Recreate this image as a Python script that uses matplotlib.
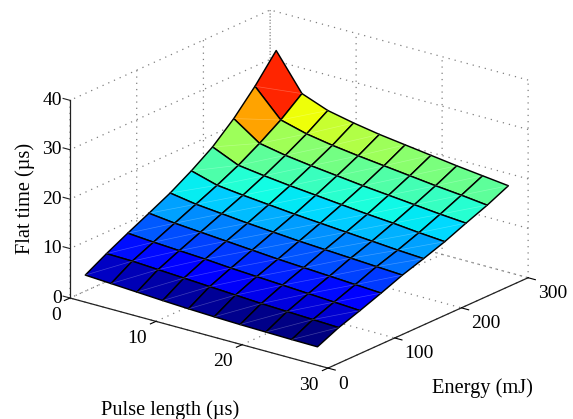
import numpy as np
import matplotlib
matplotlib.use("Agg")
import matplotlib.pyplot as plt
from mpl_toolkits.mplot3d import proj3d
from mpl_toolkits.mplot3d.art3d import Line3DCollection

plt.rcParams['font.family'] = ['Liberation Serif', 'DejaVu Serif']

pulse_length = [1, 4, 7, 10, 13, 16, 19, 22, 25, 28]
energy = [10, 41.8, 73.6, 105.4, 137.2, 169, 200.8, 232.6, 264.4, 296.2]
e0 = [4.5, 4.2, 3.9, 3.6, 3.35, 3.15, 3.0, 2.9, 2.8, 2.75]
e1 = [6.9, 6.8, 6.5, 6.2, 5.9, 5.6, 5.3, 5.1, 4.9, 4.7]
e2 = [9.1, 8.7, 8.4, 8.1, 7.7, 7.4, 7.1, 6.8, 6.5, 6.2]
e3 = [11.2, 10.6, 10.2, 9.8, 9.4, 9.0, 8.7, 8.4, 8.1, 7.8]
e4 = [13.35, 12.5, 12.0, 11.5, 11.1, 10.7, 10.4, 10.1, 9.8, 9.5]
e5 = [15.9, 14.4, 13.8, 13.3, 12.8, 12.4, 12.0, 11.6, 11.2, 10.9]
e6 = [18.8, 16.5, 15.8, 15.2, 14.7, 14.2, 13.7, 13.3, 12.8, 12.4]
e7 = [22.6, 19.0, 18.0, 17.3, 16.7, 16.1, 15.6, 15.1, 14.6, 14.2]
e8 = [27.2, 21.8, 20.4, 19.5, 18.8, 18.2, 17.6, 17.0, 16.5, 15.9]
e9 = [32.5, 25.2, 23.2, 22.1, 21.2, 20.5, 19.8, 19.1, 18.5, 17.9]
flat_time = [e0, e1, e2, e3, e4, e5, e6, e7, e8, e9]
x_ticks = [0, 10, 20, 30]
y_ticks = [0, 100, 200, 300]
z_ticks = [0, 10, 20, 30, 40]

W, H = 573, 419
fig = plt.figure(figsize=(W / 100, H / 100), dpi=100)
ax = fig.add_axes([0, 0, 1, 1], projection='3d', computed_zorder=False, proj_type='ortho')
ax.view_init(elev=20.5, azim=-52.2)
ax.set_box_aspect((328, 328, 212))
ax.set_xlim(0, 30, view_margin=0)
ax.set_ylim(0, 300, view_margin=0)
ax.set_zlim(0, 40, view_margin=0)
ax.patch.set_visible(False)

P, E = np.meshgrid(pulse_length, energy)
Z = np.array(flat_time)
cell = Z[:-1, :-1].copy()   # each face takes the colour of its first corner
cell[8, 0] = 28.6   # top cell reads red-orange
cell[7, 0] = 24.6   # next cell reads orange
colors = plt.get_cmap('jet')((cell - Z.min()) / (Z.max() - Z.min()))
ax.plot_surface(P, E, Z, rstride=1, cstride=1, facecolors=colors, edgecolor='k',
                linewidth=1.05, shade=False, antialiased=True, zorder=3)
segs = []
for i in range(9):
    for j in range(9):
        segs.append([(P[i, j], E[i, j], Z[i, j]), (P[i + 1, j + 1], E[i + 1, j + 1], Z[i + 1, j + 1])])
ax.add_collection3d(Line3DCollection(segs, colors='white', linewidths=0.5, alpha=0.25, zorder=4))

ax.set_xticks(x_ticks)
ax.set_yticks(y_ticks)
ax.set_zticks(z_ticks)
for axis in (ax.xaxis, ax.yaxis, ax.zaxis):
    axis.pane.fill = False
    axis.pane.set_edgecolor('none')
    axis.line.set_color('#222222')
    axis.line.set_linewidth(0.9)
    axis._axinfo['grid'].update(color=(0.5, 0.5, 0.5), linestyle=(0, (1, 4)), linewidth=0.9)
    axis._axinfo['tick']['linewidth'] = {True: 0.8, False: 0.5}
    axis._axinfo['tick']['color'] = '#222222'
    for t in axis.get_ticklabels():
        t.set_visible(False)
    axis.label.set_visible(False)
    axis.offsetText.set_visible(False)
ax.xaxis._axinfo['tick'].update(inward_factor=0.35, outward_factor=0.0)
ax.yaxis._axinfo['tick'].update(inward_factor=0.35, outward_factor=0.0)
ax.zaxis._axinfo['tick'].update(inward_factor=0.0, outward_factor=0.0)
ax.zaxis.line.set_color('none')

# z axis stands at the left corner of the box
ax.plot([0, 0], [0, 0], [z_ticks[0], z_ticks[-1]], color='#222222', lw=0.9, zorder=2)
for z in z_ticks:
    ax.plot([0, -0.8], [0, 0], [z, z], color='#222222', lw=0.8, zorder=2)


def to_px(x, y, z):
    X, Y, _ = proj3d.proj_transform(x, y, z, ax.get_proj())
    return ax.transData.transform((X, Y))


# fit the projected box to its place in the figure
for _ in range(3):
    fig.canvas.draw()
    a, b = to_px(0, 0, 0), to_px(30, 0, 0)
    k = 258 / (b[0] - a[0])
    pos = ax.get_position(original=True)
    ax.set_position([pos.x0, pos.y0, pos.width * k, pos.height * k])
    fig.canvas.draw()
    a = to_px(0, 0, 0)
    pos = ax.get_position(original=True)
    ax.set_position([pos.x0 + (70 - a[0]) / W, pos.y0 + ((H - 298) - a[1]) / H, pos.width, pos.height])
fig.canvas.draw()


def tick_label(point, dx, dy, value, ha):
    px = to_px(*point)
    fig.text((px[0] + dx) / W, (px[1] - dy) / H, str(value), fontsize=14, ha=ha, va='center')


for z in z_ticks:
    tick_label((0, 0, z), -8, 0, z, 'right')
for x in x_ticks:
    tick_label((x, 0, 0), -9, 17, x, 'right')
for y in y_ticks:
    tick_label((30, y, 0), 10, 16, y, 'left')

fig.text(170 / W, 1 - 410 / H, 'Pulse length (µs)', fontsize=14.7, ha='center', va='center')
fig.text(482 / W, 1 - 388 / H, 'Energy (mJ)', fontsize=14.7, ha='center', va='center')
fig.text(25.5 / W, 1 - 198 / H, 'Flat time (µs)', fontsize=14.7, rotation=90, ha='center', va='center')

fig.savefig('out.png', dpi=100)
